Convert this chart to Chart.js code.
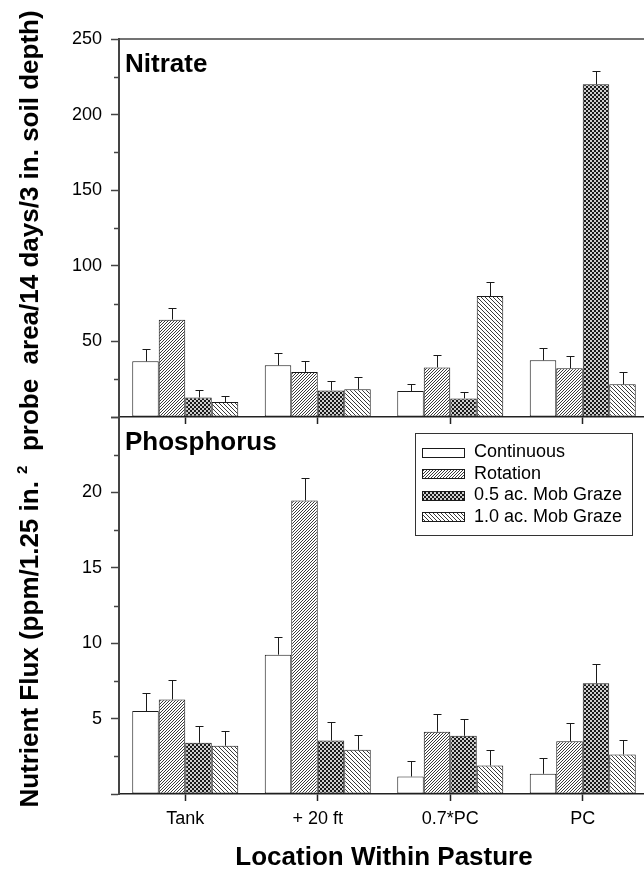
<!DOCTYPE html>
<html>
<head>
<meta charset="utf-8">
<script src="https://cdn.jsdelivr.net/npm/chart.js@4.4.1/dist/chart.umd.min.js"></script>
<style>
  html, body { margin: 0; padding: 0; background: #fff; overflow: hidden; }
  #wrap { position: relative; width: 644px; height: 871px; overflow: hidden; }
  #wrap canvas { position: absolute; left: 0; top: 0; }
  #ytitle {
    position: absolute; left: -403px; top: 396px; width: 860px; height: 26px;
    line-height: 26px; text-align: center; white-space: nowrap;
    font: bold 26px 'Liberation Sans', Arial, sans-serif; color: #000;
    transform: rotate(-90deg);
  }
  #ytitle .sup { font-size: 15px; position: relative; top: -11px; }
</style>
</head>
<body>
<div id="wrap">
  <canvas id="nitrate" width="649" height="871"></canvas>
  <canvas id="phos" width="649" height="871"></canvas>
  <div id="ytitle">Nutrient Flux (ppm/1.25 in.&nbsp;<span class="sup">2</span>&nbsp; probe&nbsp; area/14 days/3 in. soil depth)</div>
</div>
<script>
// categories and series
const CATEGORIES = ['Tank', '+ 20 ft', '0.7*PC', 'PC'];
const SERIES = ['Continuous', 'Rotation', '0.5 ac. Mob Graze', '1.0 ac. Mob Graze'];

// nitrate means and standard errors
const NITRATE_CONT = [36.8, 34.2, 17.2, 37.5];
const NITRATE_ROT = [64.4, 29.8, 32.8, 32.2];
const NITRATE_MOB05 = [12.9, 17.6, 12.3, 220.0];
const NITRATE_MOB10 = [9.9, 18.3, 80.0, 21.6];
const NITRATE_CONT_ERR = [8.0, 7.9, 4.4, 7.9];
const NITRATE_ROT_ERR = [7.9, 7.5, 8.0, 7.9];
const NITRATE_MOB05_ERR = [4.8, 6.0, 4.5, 9.0];
const NITRATE_MOB10_ERR = [4.0, 7.9, 9.0, 8.2];

// phosphorus means and standard errors
const PHOS_CONT = [5.50, 9.24, 1.16, 1.34];
const PHOS_ROT = [6.27, 19.47, 4.13, 3.49];
const PHOS_MOB05 = [3.40, 3.55, 3.86, 7.34];
const PHOS_MOB10 = [3.20, 2.93, 1.89, 2.62];
const PHOS_CONT_ERR = [1.19, 1.15, 1.00, 1.06];
const PHOS_ROT_ERR = [1.27, 1.48, 1.19, 1.24];
const PHOS_MOB05_ERR = [1.10, 1.24, 1.11, 1.26];
const PHOS_MOB10_ERR = [0.99, 1.00, 1.00, 0.98];

// labelled y ticks
const NITRATE_TICKS = [50, 100, 150, 200, 250];
const PHOS_TICKS = [5, 10, 15, 20];

const FONT = "'Liberation Sans', Arial, sans-serif";
Chart.defaults.font.family = FONT;
Chart.defaults.color = '#000';

function makePattern(kind) {
  const size = kind === 'fwd' ? 3 : 4;
  const c = document.createElement('canvas');
  c.width = c.height = size;
  const g = c.getContext('2d');
  g.fillStyle = '#fff';
  g.fillRect(0, 0, size, size);
  for (let x = 0; x < size; x++) {
    for (let y = 0; y < size; y++) {
      let on = false;
      if (kind === 'fwd') on = (x + y) % 3 === 2;
      if (kind === 'back') on = (x - y + 4) % 4 === 0;
      if (kind === 'check') {
        on = (Math.floor(x / 2) + Math.floor(y / 2)) % 2 === 0;
        if (!on) { g.fillStyle = '#cfcfcf'; g.fillRect(x, y, 1, 1); }
      }
      if (on) { g.fillStyle = kind === 'check' ? '#1a1a1a' : '#3a3a3a'; g.fillRect(x, y, 1, 1); }
    }
  }
  return g.createPattern(c, 'repeat');
}

const FILLS = ['#ffffff', makePattern('fwd'), makePattern('check'), makePattern('back')];

function buildDatasets(means, errs) {
  return SERIES.map((label, i) => ({
    label,
    data: means[i],
    errors: errs[i],
    backgroundColor: FILLS[i],
    borderColor: '#1a1a1a',
    borderWidth: 1,
    borderSkipped: false,
    categoryPercentage: 0.8,
    barPercentage: 1,
  }));
}

const panelPlugin = {
  id: 'panel',
  afterDatasetsDraw(chart) {
    const ctx = chart.ctx, ys = chart.scales.y;
    ctx.save();
    ctx.strokeStyle = '#1a1a1a';
    ctx.lineWidth = 1;
    chart.data.datasets.forEach((ds, i) => {
      chart.getDatasetMeta(i).data.forEach((bar, j) => {
        const x = Math.round(bar.x) + 0.5;
        const y1 = ys.getPixelForValue(ds.data[j]);
        const y2 = Math.round(ys.getPixelForValue(ds.data[j] + ds.errors[j])) + 0.5;
        ctx.beginPath();
        ctx.moveTo(x, y1); ctx.lineTo(x, y2);
        ctx.moveTo(x - 4, y2); ctx.lineTo(x + 4, y2);
        ctx.stroke();
      });
    });
    ctx.restore();
  },
  afterDraw(chart, args, o) {
    const ctx = chart.ctx, a = chart.chartArea, ys = chart.scales.y;
    ctx.save();
    // minor ticks
    ctx.strokeStyle = '#444';
    ctx.lineWidth = 1.5;
    for (let v = o.minorStep / 2; v < ys.max; v += o.minorStep) {
      const y = Math.round(ys.getPixelForValue(v)) + 0.5;
      ctx.beginPath(); ctx.moveTo(a.left - 5, y); ctx.lineTo(a.left, y); ctx.stroke();
    }
    // frame top
    if (o.frameTop) {
      ctx.beginPath(); ctx.moveTo(a.left, a.top); ctx.lineTo(a.right, a.top); ctx.stroke();
    }
    // panel title
    ctx.fillStyle = '#000';
    ctx.font = 'bold 26px ' + FONT;
    ctx.textBaseline = 'alphabetic';
    ctx.textAlign = 'left';
    ctx.fillText(o.title, a.left + 6, a.top + 33);
    // legend box
    if (o.legend) {
      const bx = a.left + 296, by = a.top + 16, bw = 217, bh = 102;
      ctx.strokeStyle = '#333';
      ctx.lineWidth = 1;
      ctx.strokeRect(bx + 0.5, by + 0.5, bw, bh);
      ctx.font = '18px ' + FONT;
      ctx.textBaseline = 'middle';
      chart.data.datasets.forEach((ds, i) => {
        const cy = by + 19 + i * 21.6;
        const sy = Math.round(cy - 4.5);
        ctx.fillStyle = ds.backgroundColor;
        ctx.fillRect(bx + 7, sy, 42, 9);
        ctx.strokeStyle = '#1a1a1a';
        ctx.strokeRect(bx + 7.5, sy + 0.5, 42, 9);
        ctx.fillStyle = '#000';
        ctx.fillText(ds.label, bx + 59, cy);
      });
    }
    ctx.restore();
  },
};

function yAxis(max, step, labelled) {
  return {
    min: 0, max,
    ticks: { stepSize: step, padding: 9, font: { size: 18 }, color: '#000',
      callback: v => labelled.includes(v) ? v : '' },
    grid: { drawOnChartArea: false, tickLength: 8, tickColor: '#444', tickWidth: 1.5 },
    border: { color: '#444', width: 2 },
    afterFit: s => { s.width = 119; },
  };
}

new Chart(document.getElementById('nitrate'), {
  type: 'bar',
  data: {
    labels: CATEGORIES,
    datasets: buildDatasets(
      [NITRATE_CONT, NITRATE_ROT, NITRATE_MOB05, NITRATE_MOB10],
      [NITRATE_CONT_ERR, NITRATE_ROT_ERR, NITRATE_MOB05_ERR, NITRATE_MOB10_ERR]),
  },
  options: {
    responsive: false, animation: false, devicePixelRatio: 1,
    layout: { padding: { top: 39, left: 0, right: 0, bottom: 0 } },
    plugins: {
      legend: { display: false }, tooltip: { enabled: false },
      panel: { title: 'Nitrate', minorStep: 50, frameTop: true, legend: false },
    },
    scales: {
      x: {
        ticks: { display: false },
        grid: { offset: false, drawOnChartArea: false, tickLength: 7, tickColor: '#222', tickWidth: 1.5 },
        border: { color: '#222', width: 1.5 },
        afterFit: s => { s.height = 454; },
      },
      y: yAxis(250, 50, NITRATE_TICKS),
    },
  },
  plugins: [panelPlugin],
});

new Chart(document.getElementById('phos'), {
  type: 'bar',
  data: {
    labels: CATEGORIES,
    datasets: buildDatasets(
      [PHOS_CONT, PHOS_ROT, PHOS_MOB05, PHOS_MOB10],
      [PHOS_CONT_ERR, PHOS_ROT_ERR, PHOS_MOB05_ERR, PHOS_MOB10_ERR]),
  },
  options: {
    responsive: false, animation: false, devicePixelRatio: 1,
    layout: { padding: { top: 417, left: 0, right: 0, bottom: 0 } },
    plugins: {
      legend: { display: false }, tooltip: { enabled: false },
      panel: { title: 'Phosphorus', minorStep: 5, frameTop: false, legend: true },
    },
    scales: {
      x: {
        ticks: { font: { size: 18 }, color: '#000', padding: 7, maxRotation: 0 },
        grid: { offset: false, drawOnChartArea: false, tickLength: 7, tickColor: '#222', tickWidth: 1.5 },
        border: { color: '#222', width: 1.5 },
        title: { display: true, text: 'Location Within Pasture', color: '#000',
          font: { size: 26, weight: 'bold', lineHeight: 1 }, padding: { top: 0, bottom: 0 } },
        afterFit: s => { s.height = 77; },
      },
      y: yAxis(25, 5, PHOS_TICKS),
    },
  },
  plugins: [panelPlugin],
});
</script>
</body>
</html>
